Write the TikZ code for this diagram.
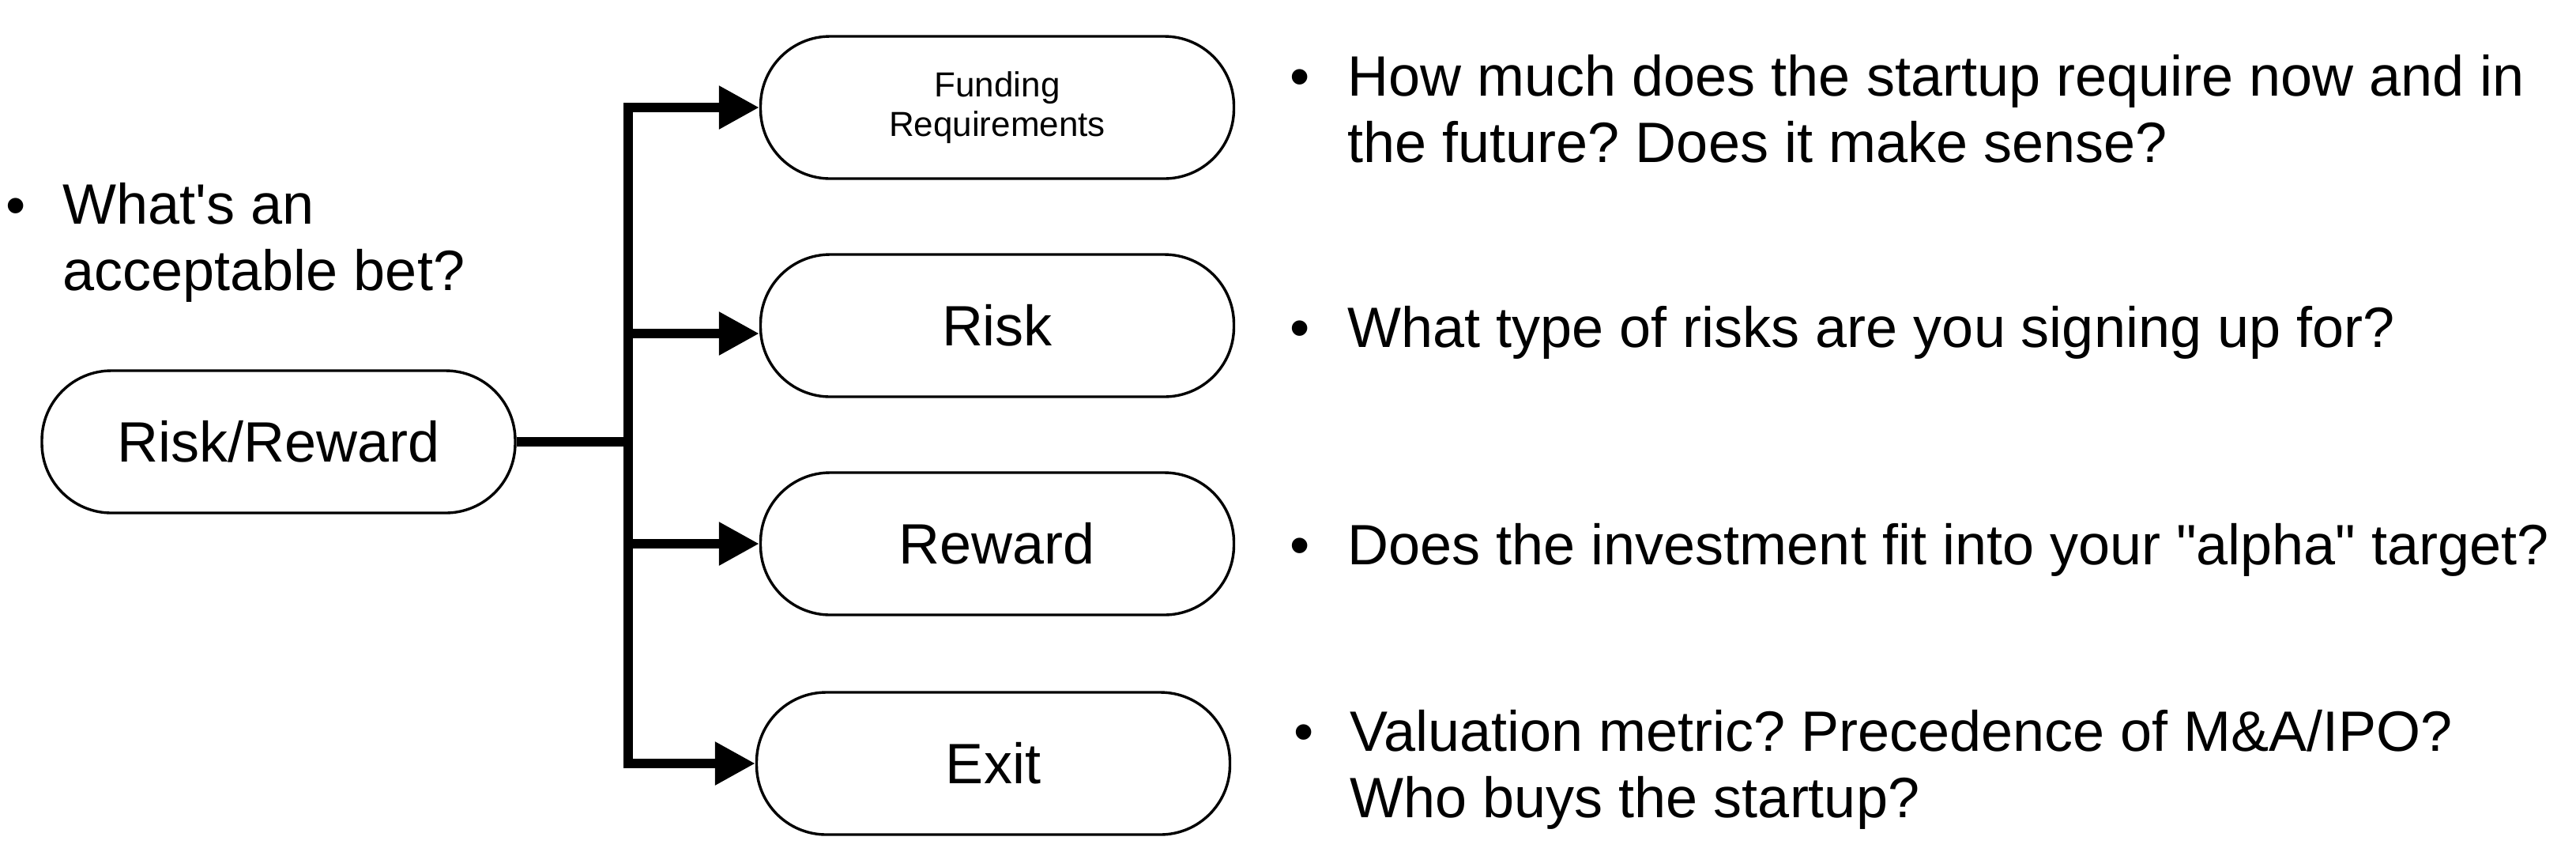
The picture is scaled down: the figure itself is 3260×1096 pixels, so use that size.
\documentclass[tikz,border=0pt]{standalone}
\usepackage{fontspec}
\newfontfamily\lsans{Liberation Sans}
\usetikzlibrary{arrows.meta}
\newcommand\txtbig{\lsans\frenchspacing\fontsize{18}{21}\selectfont}
\newcommand\txtsmall{\lsans\fontsize{11}{12.5}\selectfont}
\begin{document}
\begin{tikzpicture}[x=0.25pt,y=-0.25pt,
 box/.style={draw,line width=0.85pt,rounded corners=22pt,minimum width=149.75pt,minimum height=45pt,inner sep=0pt,font=\txtbig,align=center},
 txt/.style={font=\txtbig,align=left,inner sep=0pt,anchor=base west},
 bul/.style={font=\txtbig,inner sep=0pt,anchor=base},
 link/.style={line width=3pt},
 arr/.style={line width=3pt,-{Triangle[length=12.75pt,width=13pt]}},
]
\useasboundingbox (0,0) rectangle (3260,1096);

% boxes
\node[box] (rr) at (352.5,559) {Risk/Reward};
\node[box,font=\txtsmall] (fund) at (1262,136) {Funding\\Requirements};
\node[box] (risk) at (1262,412) {Risk};
\node[box] (rew) at (1262,688) {Reward};
\node[box] (exit) at (1257,966) {Exit};

% junctions on the trunk
\coordinate (j1) at (795,136);
\coordinate (j2) at (795,422);
\coordinate (jm) at (795,559);
\coordinate (j3) at (795,688);
\coordinate (j4) at (795,966);

\draw[link,line cap=rect] (j1) -- (j4);
\draw[link] (rr.east) -- (jm);
\draw[arr] (j1) -- (fund.west);
\draw[arr] (j2) -- ([yshift=-2.5pt]risk.west);
\draw[arr] (j3) -- (rew.west);
\draw[arr] (j4) -- (exit.west);

% bullet texts (multi-line nodes: base = last line's baseline)
\node[bul] (b0) at (20,284) {•};
\node[txt] (t0) at (79,367) {What's an\\acceptable bet?};
\node[bul] (b1) at (1645,121) {•};
\node[txt] (t1) at (1705,205) {How much does the startup require now and in\\the future? Does it make sense?};
\node[bul] (b2) at (1645,439) {•};
\node[txt] (t2) at (1705,439) {What type of risks are you signing up for?};
\node[bul] (b3) at (1645,714) {•};
\node[txt] (t3) at (1705,714) {Does the investment fit into your "alpha" target?};
\node[bul] (b4) at (1650,950) {•};
\node[txt] (t4) at (1708,1034) {Valuation metric? Precedence of M\&A/IPO?\\Who buys the startup?};
\end{tikzpicture}
\end{document}
